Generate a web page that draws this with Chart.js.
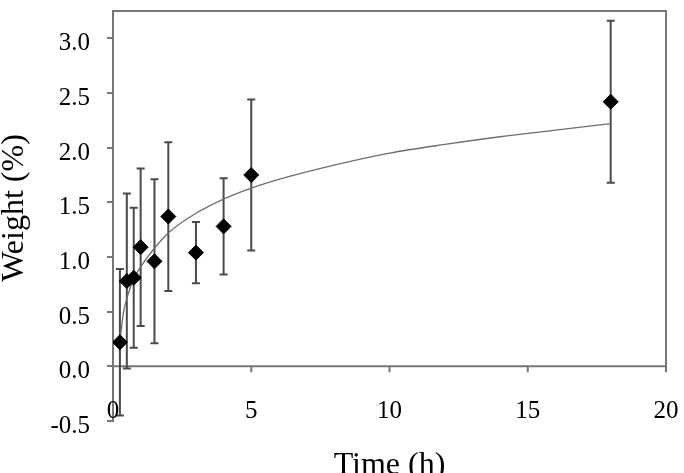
<!DOCTYPE html>
<html>
<head>
<meta charset="utf-8">
<script src="https://cdn.jsdelivr.net/npm/chart.js@4/dist/chart.umd.min.js"></script>
<style>
html,body{margin:0;padding:0;background:#fff;}
#wrap{width:684px;height:473px;}
</style>
</head>
<body>
<div id="wrap"><canvas id="wtChart" width="684" height="473"></canvas></div>
<script>
// measured points (mean and +/- error)
const timeH=[0.25,0.5,0.75,1,1.5,2,3,4,5,18];
const weightPct=[0.22,0.78,0.81,1.09,0.96,1.37,1.04,1.28,1.75,2.42];
const weightErr=[0.67,0.80,0.64,0.72,0.75,0.68,0.28,0.44,0.69,0.74];
// trend line
const fitX=[0.25,0.37,0.5,0.75,1,1.5,2,3,4,5,6,8,10,12,14,16,18];
const fitY=[0.22,0.48,0.62,0.80,0.91,1.08,1.22,1.40,1.53,1.63,1.71,1.84,1.95,2.03,2.10,2.16,2.22];
const xTicks=[0,5,10,15,20];
const yTicks=[-0.5,0,0.5,1,1.5,2,2.5,3];
const xTitle='Time (h)';
const yTitle='Weight (%)';

const LINE='#777';
const SERIF='"Liberation Serif","Times New Roman",serif';

const fmtY=v=>v.toFixed(1);

const frame={
 id:'frame',
 beforeDatasetsDraw(c){
  const {ctx,chartArea:a,scales:{x,y}}=c;
  const y0=y.getPixelForValue(0);
  ctx.save();
  ctx.strokeStyle=LINE;ctx.lineWidth=2;
  ctx.beginPath();
  ctx.moveTo(a.left,a.top);ctx.lineTo(a.right,a.top);ctx.lineTo(a.right,y0);
  ctx.moveTo(a.left,y0);ctx.lineTo(a.right,y0);
  xTicks.forEach(v=>{const px=x.getPixelForValue(v);ctx.moveTo(px,y0);ctx.lineTo(px,y0+6);});
  ctx.stroke();
  // error bars
  ctx.strokeStyle='#4a4a4a';
  timeH.forEach((t,i)=>{
   const px=x.getPixelForValue(t);
   const hi=y.getPixelForValue(weightPct[i]+weightErr[i]);
   const lo=y.getPixelForValue(weightPct[i]-weightErr[i]);
   ctx.beginPath();
   ctx.moveTo(px,hi);ctx.lineTo(px,lo);
   ctx.moveTo(px-4,hi);ctx.lineTo(px+4,hi);
   ctx.moveTo(px-4,lo);ctx.lineTo(px+4,lo);
   ctx.stroke();
  });
  ctx.restore();
 },
 afterDraw(c){
  const {ctx,chartArea:a,scales:{x,y}}=c;
  ctx.save();
  ctx.fillStyle='#000';
  ctx.font='25px '+SERIF;
  ctx.textBaseline='alphabetic';
  ctx.textAlign='right';
  yTicks.forEach(v=>ctx.fillText(fmtY(v),90,y.getPixelForValue(v)+12));
  ctx.textAlign='center';
  xTicks.forEach(v=>ctx.fillText(String(v),x.getPixelForValue(v),418));
  ctx.font='32px '+SERIF;
  ctx.fillText(xTitle,(a.left+a.right)/2,474);
  ctx.translate(23,208);
  ctx.rotate(-Math.PI/2);
  ctx.fillText(yTitle,0,0);
  ctx.restore();
 }
};

new Chart(document.getElementById('wtChart'),{
 type:'scatter',
 data:{datasets:[
  {
   label:'Weight',
   data:timeH.map((t,i)=>({x:t,y:weightPct[i]})),
   pointStyle:'rectRot',pointRadius:7.5,pointHoverRadius:7.5,
   backgroundColor:'#000',borderColor:'#000',borderWidth:1,showLine:false
  },
  {
   label:'Fit',type:'line',
   data:fitX.map((t,i)=>({x:t,y:fitY[i]})),
   borderColor:'#6e6e6e',borderWidth:1.3,pointRadius:0,fill:false,
   cubicInterpolationMode:'monotone'
  }
 ]},
 options:{
  responsive:false,animation:false,devicePixelRatio:1,
  layout:{padding:{top:11,right:18,bottom:52,left:0}},
  plugins:{legend:{display:false},tooltip:{enabled:false}},
  scales:{
   x:{type:'linear',min:0,max:20,display:false},
   y:{
    min:-0.5,max:3.25,
    afterBuildTicks:s=>{s.ticks=yTicks.map(v=>({value:v}));},
    afterFit:s=>{s.width=113;},
    ticks:{display:false},
    grid:{drawOnChartArea:false,drawTicks:true,tickLength:6,color:LINE,lineWidth:2},
    border:{display:true,color:LINE,width:2}
   }
  }
 },
 plugins:[frame]
});
</script>
</body>
</html>
